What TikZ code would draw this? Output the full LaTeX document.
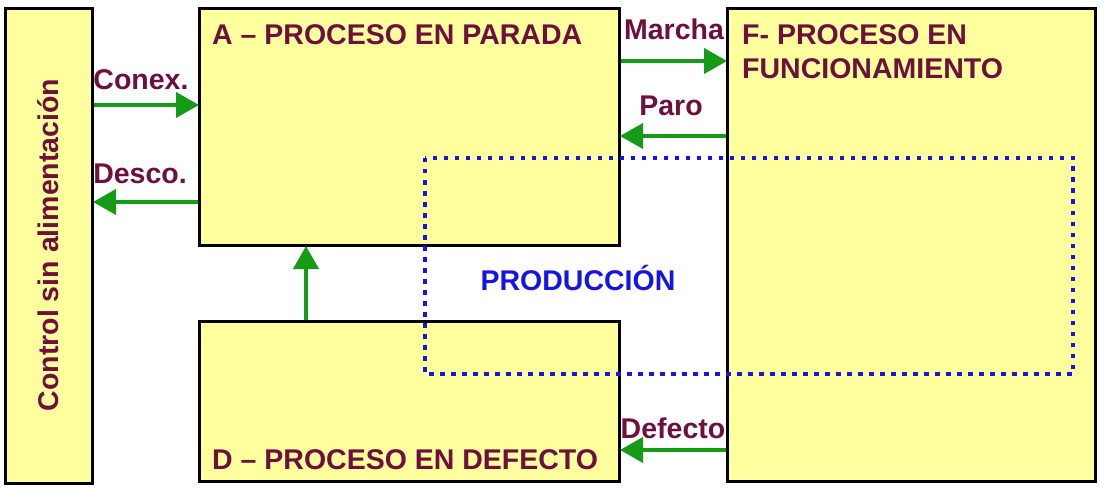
\documentclass[tikz,border=0pt]{standalone}
\usepackage{fontspec}
\setmainfont{Liberation Sans}
\usetikzlibrary{arrows.meta}
\definecolor{boxfill}{HTML}{FFFF9E}
\definecolor{txt}{HTML}{6E0F3E}
\definecolor{arr}{HTML}{169B16}
\definecolor{prod}{HTML}{1414E6}
\tikzset{
  box/.style={draw=black, line width=3pt, fill=boxfill, anchor=north west, inner sep=0pt},
  lbl/.style={text=txt, font=\bfseries\fontsize{28.5}{34}\selectfont, inner sep=0pt, anchor=base},
  flow/.style={draw=arr, line width=4pt, -{Triangle[length=23pt,width=25pt]}, shorten >=-1pt},
  zone/.style={draw=prod, line width=4.5pt, dash pattern=on 4.5pt off 6.5pt}
}
\begin{document}
\begin{tikzpicture}[x=1pt,y=-1pt]
\useasboundingbox (0,0) rectangle (1107,489);
% boxes
\node[box, minimum width=87pt, minimum height=475pt] (L) at (4,7) {};
\node[box, minimum width=420pt, minimum height=237pt] (A) at (198,7) {};
\node[box, minimum width=420pt, minimum height=160pt] (D) at (198,320) {};
\node[box, minimum width=368pt, minimum height=473pt] (F) at (726,7) {};
% texts
\node[lbl, rotate=90, anchor=center] (Lt) at (48,245) {Control sin alimentación};
\node[lbl, anchor=base west] (At) at (212,45) {A – PROCESO EN PARADA};
\node[lbl, anchor=base west] (Ft1) at (742,45) {F- PROCESO EN};
\node[lbl, anchor=base west] (Ft2) at (742,79) {FUNCIONAMIENTO};
\node[lbl, anchor=base west] (Dt) at (212,469) {D – PROCESO EN DEFECTO};
% connector anchors
\coordinate (c1) at (0,105);
\coordinate (c2) at (0,202);
\coordinate (c3) at (0,61);
\coordinate (c4) at (0,136);
\coordinate (c5) at (0,450);
\coordinate (c6) at (306,0);
% connectors
\draw[flow] (L.east |- c1) -- (A.west |- c1);
\draw[flow] (A.west |- c2) -- (L.east |- c2);
\draw[flow] (A.east |- c3) -- (F.west |- c3);
\draw[flow] (F.west |- c4) -- (A.east |- c4);
\draw[flow] (F.west |- c5) -- (D.east |- c5);
\draw[flow] (D.north -| c6) -- (A.south -| c6);
% labels
\node[lbl] (l1) at (141,90) {Conex.};
\node[lbl] (l2) at (140,183) {Desco.};
\node[lbl] (l3) at (674,40) {Marcha};
\node[lbl] (l4) at (671,116) {Paro};
\node[lbl] (l5) at (673,438) {Defecto};
% production zone
\draw[zone] (425,158) rectangle (1073,374);
\node[lbl, text=prod] (P) at (578,290) {PRODUCCIÓN};
\end{tikzpicture}
\end{document}
